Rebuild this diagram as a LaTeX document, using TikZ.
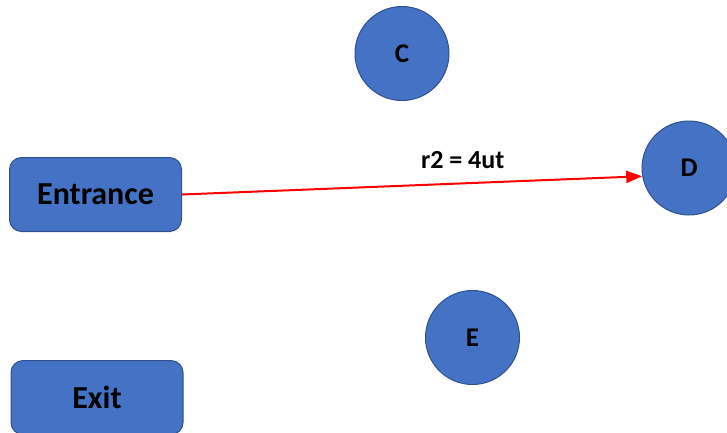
\documentclass[tikz,border=0pt]{standalone}
\usepackage{fontspec}
\setmainfont{Carlito}
\usetikzlibrary{arrows.meta}

\definecolor{bluefill}{HTML}{4472C4}
\definecolor{blueedge}{HTML}{2F528F}

\tikzset{
  room/.style={draw=blueedge, fill=bluefill, line width=1pt, rounded corners=12pt,
    minimum width=172pt, minimum height=74pt, font=\bfseries\fontsize{32}{32}\selectfont},
  spot/.style={circle, draw=blueedge, fill=bluefill, line width=1pt,
    minimum size=94pt, font=\bfseries\fontsize{27}{27}\selectfont},
  route/.style={red, line width=2pt, -{Triangle[length=16pt,width=12pt]}},
}

\begin{document}
\begin{tikzpicture}[x=1pt,y=-1pt]
    \useasboundingbox (0,0) rectangle (727,432);

    \node[room] (entrance) at (95.5,194.5) {Entrance};
    \node[room] (exit) at (97,397.5) {Exit};

    \node[spot] (C) at (402,53.5) {C};
    \node[spot] (D) at (689,168) {D};
    \node[spot] (E) at (472.5,337.5) {E};

    % route from the entrance to D
    \draw[route](entrance.east)--node[above=10pt,pos=0.61,black,font=\bfseries\fontsize{26}{26}\selectfont]{r2 = 4ut}(D.190);
\end{tikzpicture}
\end{document}
